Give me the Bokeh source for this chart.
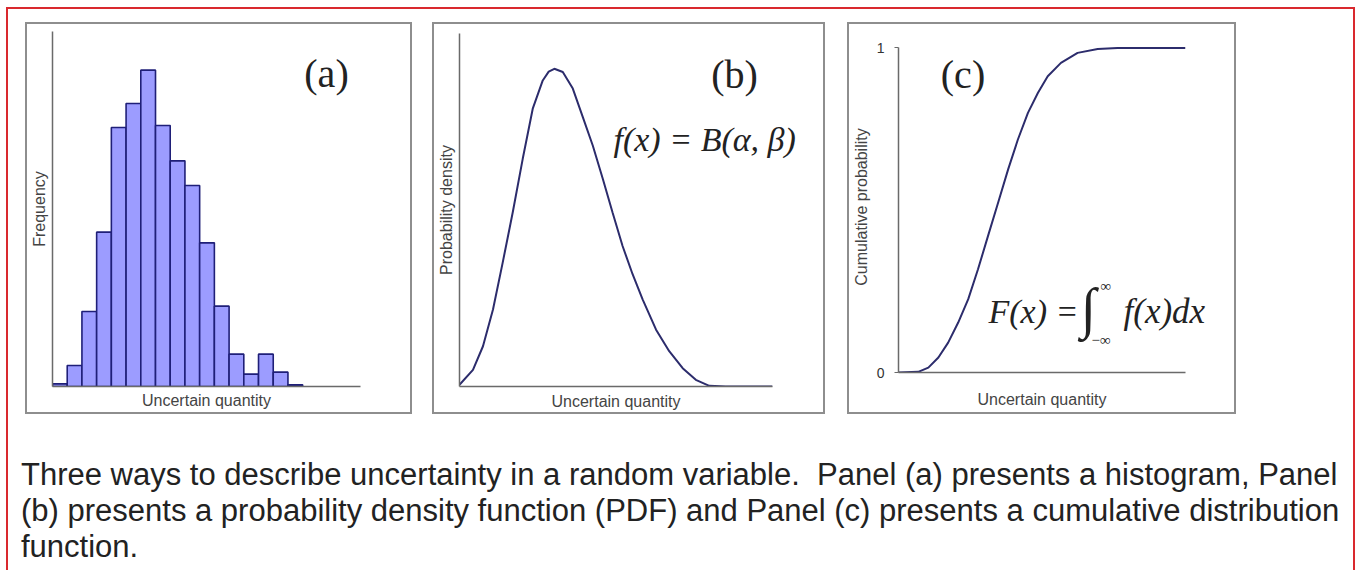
from bokeh.plotting import figure
from bokeh.models import Range1d, FixedTicker, Label, Div
from bokeh.embed import file_html
from bokeh.resources import INLINE

# ---------------- data ----------------
hist_edges = list(range(18))
hist_freq = [0.8, 6.3, 22.5, 46.3, 77.7, 84.9, 94.9, 78.3, 67.7, 60.3,
             43.1, 24.1, 9.7, 3.7, 9.7, 4.3, 0.5]

pdf_x = [0.000, 0.043, 0.075, 0.107, 0.138, 0.170, 0.202, 0.234, 0.266, 0.285,
         0.303, 0.330, 0.362, 0.394, 0.426, 0.458, 0.489, 0.521, 0.553, 0.585,
         0.628, 0.670, 0.713, 0.755, 0.798, 0.850, 1.000]
pdf_y = [0.005, 0.047, 0.114, 0.218, 0.351, 0.493, 0.645, 0.787, 0.867, 0.892,
         0.900, 0.891, 0.844, 0.763, 0.682, 0.588, 0.493, 0.398, 0.318, 0.247,
         0.161, 0.100, 0.052, 0.019, 0.002, 0.000, 0.000]

cdf_x = [0.000, 0.069, 0.104, 0.139, 0.173, 0.208, 0.243, 0.277, 0.312, 0.347,
         0.382, 0.416, 0.451, 0.486, 0.520, 0.566, 0.624, 0.694, 0.763, 1.000]
cdf_y = [0.000, 0.002, 0.015, 0.046, 0.092, 0.154, 0.226, 0.318, 0.421, 0.523,
         0.626, 0.718, 0.800, 0.862, 0.913, 0.954, 0.985, 0.997, 1.000, 1.000]
cdf_ticks = [0, 1]

x_title = "Uncertain quantity"
y_titles = ["Frequency", "Probability density", "Cumulative probability"]
panel_tags = ["(a)", "(b)", "(c)"]
pdf_formula = "f(x) = B(α, β)"
cdf_formula_parts = ["F(x) =", "∫", "∞", "−∞", "f(x)dx"]
caption_lines = [
    "Three ways to describe uncertainty in a random variable.  Panel (a) presents a histogram, Panel",
    "(b) presents a probability density function (PDF) and Panel (c) presents a cumulative distribution",
    "function.",
]

# ---------------- styling ----------------
SANS = "Liberation Sans"
SERIF = "Liberation Serif"
AXIS_GREY = "#6a6a6a"
CURVE = "#2c2c6c"
RED = "2px solid #d9292e"

# panel geometry on the page: host box (L, T, W, H), canvas borders, data extents
PANELS = [
    dict(L=25, T=22, W=387, H=392, bl=24, br=54, bt=7, bb=30, x1=20.93, y1=106.5, yb=None),
    dict(L=432, T=22, W=393, H=392, bl=24, br=55, bt=9, bb=30, x1=1.0, y1=1.0, yb=None),
    dict(L=847, T=22, W=389, H=392, bl=48, br=53, bt=17, bb=44, x1=1.0, y1=1.02, yb=(0, 1)),
]


def make_panel(g, ytitle, xstand, ystand, yticks=None):
    p = figure(width=g["W"], height=g["H"], x_range=Range1d(0, g["x1"]),
               y_range=Range1d(0, g["y1"]), output_backend="svg",
               toolbar_location=None, min_border_left=g["bl"],
               min_border_right=g["br"], min_border_top=g["bt"],
               min_border_bottom=g["bb"], title=None)
    p.grid.visible = False
    p.outline_line_color = None
    p.border_fill_alpha = 0
    p.styles = {"position": "absolute", "left": f"{g['L']}px", "top": f"{g['T']}px",
                "box-sizing": "border-box", "border": "2px solid #8e8e8e"}
    for ax in (p.xaxis[0], p.yaxis[0]):
        ax.axis_line_color = AXIS_GREY
        ax.axis_line_width = 1.5
        ax.major_tick_in = 0
        ax.minor_tick_in = 0
        ax.minor_tick_out = 0
        ax.axis_label_text_font = SANS
        ax.axis_label_text_font_size = "16px"
        ax.axis_label_text_font_style = "normal"
        ax.axis_label_text_color = "#444444"
    if g["yb"] is not None:
        p.yaxis.bounds = g["yb"]
    p.xaxis.ticker = FixedTicker(ticks=[])
    p.xaxis.major_tick_out = 0
    p.xaxis.major_label_standoff = 0
    p.xaxis.axis_label = x_title
    p.xaxis.axis_label_standoff = xstand
    p.yaxis.axis_label = ytitle
    p.yaxis.axis_label_standoff = ystand
    if yticks is None:
        p.yaxis.ticker = FixedTicker(ticks=[])
        p.yaxis.major_tick_out = 0
        p.yaxis.major_label_standoff = 0
    else:
        p.yaxis.ticker = FixedTicker(ticks=yticks)
        p.yaxis.major_tick_out = 4
        p.yaxis.major_tick_line_color = AXIS_GREY
        p.yaxis.major_label_standoff = 10
        p.yaxis.major_label_text_font = SANS
        p.yaxis.major_label_text_font_size = "14px"
        p.yaxis.major_label_text_color = "#333333"
    return p


# ---------------- panel (a) histogram ----------------
pa = make_panel(PANELS[0], y_titles[0], xstand=5, ystand=5)
pa.quad(left=hist_edges[:-1], right=hist_edges[1:], bottom=0, top=hist_freq,
        fill_color="#9c9cff", line_color="#1f1f78", line_width=1.6)

# ---------------- panel (b) pdf ----------------
pb = make_panel(PANELS[1], y_titles[1], xstand=6, ystand=5)
pb.line(pdf_x, pdf_y, line_color=CURVE, line_width=2)

# ---------------- panel (c) cdf ----------------
pc = make_panel(PANELS[2], y_titles[2], xstand=18, ystand=4, yticks=cdf_ticks)
pc.line(cdf_x, cdf_y, line_color=CURVE, line_width=2)

# ---------------- annotation layer (page pixel coordinates) ----------------
OW, OH = 1355, 562
ov = figure(width=OW, height=OH, x_range=Range1d(0, OW), y_range=Range1d(OH, 0),
            output_backend="svg", toolbar_location=None, x_axis_type=None,
            y_axis_type=None, min_border=0, title=None)
ov.grid.visible = False
ov.outline_line_color = None
ov.border_fill_alpha = 0
ov.background_fill_alpha = 0
ov.styles = {"position": "absolute", "left": "0px", "top": "0px"}


def add_text(px, py, text, size, align="left", style="normal"):
    ov.add_layout(Label(x=px, y=py, text=text, text_font=SERIF, text_font_size=size,
                        text_font_style=style, text_align=align,
                        text_baseline="alphabetic", text_color="#222222"))


add_text(326, 73, panel_tags[0], "40px", align="center")
add_text(734, 74, panel_tags[1], "40px", align="center")
add_text(962.5, 74, panel_tags[2], "40px", align="center")
add_text(613, 139, pdf_formula, "34px", style="italic")
add_text(988, 311, cdf_formula_parts[0], "34px", style="italic")
add_text(1080, 307, cdf_formula_parts[1], "56px")
add_text(1100, 285, cdf_formula_parts[2], "15px")
add_text(1091, 339, cdf_formula_parts[3], "15px")
add_text(1123, 311, cdf_formula_parts[4], "35px", style="italic")

# ---------------- caption and outer frame ----------------
cap_html = "<br>".join(s.replace("  ", "&nbsp; ") for s in caption_lines)
cap = Div(text=cap_html, width=1330, height=112, margin=0,
          styles={"position": "absolute", "left": "21px", "top": "457px",
                  "font-family": "'Liberation Sans', Arial, sans-serif",
                  "font-size": "31px", "line-height": "36px",
                  "color": "#222222", "white-space": "nowrap"})

frame = Div(text="", width=1349, height=563, margin=0,
            styles={"position": "absolute", "left": "6px", "top": "7px",
                    "box-sizing": "border-box", "border-left": RED,
                    "border-top": RED, "border-right": RED})

open("out.html", "w").write(file_html([frame, pa, pb, pc, cap, ov], INLINE))
